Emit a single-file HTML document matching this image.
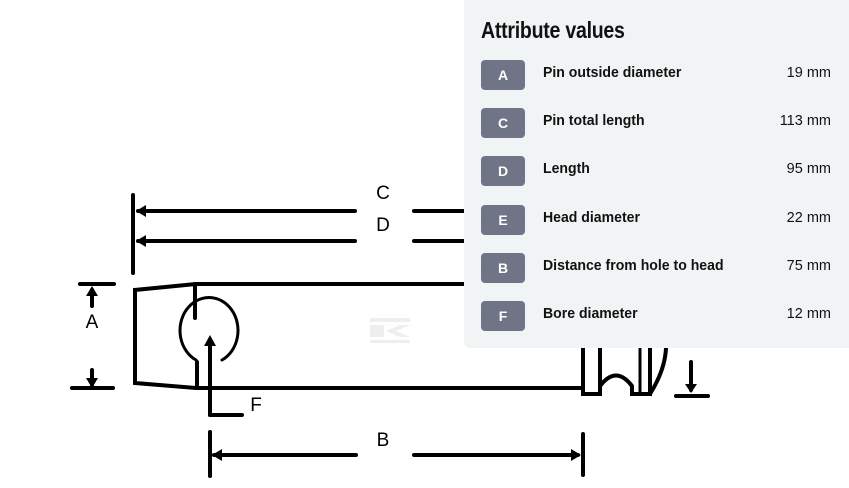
<!DOCTYPE html>
<html><head><meta charset="utf-8"><style>
body{margin:0;width:849px;height:488px;background:#fff;position:relative;overflow:hidden;font-family:"Liberation Sans",sans-serif}
svg{position:absolute;left:0;top:0}
.panel{position:absolute;left:464px;top:0;width:385px;height:348px;background:#f1f4f5;border-bottom-left-radius:6px}
.title{position:absolute;left:17px;top:17px;font-size:23px;font-weight:bold;color:#111;transform:scaleX(0.85);transform-origin:left;letter-spacing:-0.3px}
.row{position:absolute;left:17px;width:350px;height:30px}
.b{position:absolute;left:0;top:0;width:44px;height:30px;background:#6f7586;border-radius:4px;color:#fff;font-weight:bold;font-size:14px;text-align:center;line-height:31px}
.l{position:absolute;left:62px;top:5px;font-size:14.5px;font-weight:bold;color:#111;transform:scaleX(0.97);transform-origin:left;white-space:nowrap}
.v{position:absolute;right:0;top:5px;font-size:14.5px;color:#111}
</style></head><body>
<svg width="849" height="488" viewBox="0 0 849 488" fill="none" stroke="#000" stroke-linecap="round">
<g font-family="Liberation Sans" font-size="19" fill="#000" stroke="none" text-anchor="middle">
<text x="383" y="199">C</text><text x="383" y="231">D</text><text x="92" y="328">A</text><text x="256" y="411">F</text><text x="383" y="446">B</text>
</g>
<g stroke-width="4">
<line x1="133" y1="195" x2="133" y2="273"/>
<line x1="138" y1="211" x2="355" y2="211"/><line x1="414" y1="211" x2="470" y2="211"/>
<line x1="138" y1="241" x2="355" y2="241"/><line x1="414" y1="241" x2="470" y2="241"/>
<path d="M196 284 L600 284"/>
<path d="M196 284 L135 290 L135 383 L196 388 L583 388"/>
<line x1="195" y1="284" x2="195" y2="318"/><line x1="197" y1="362" x2="197" y2="388"/>
<path d="M583 348 V394 H600 V348 M600 394 V386 Q616 365 632 386 V394 H650 V348 M650 394 Q665 370 666 348" stroke-width="4"/>
<line x1="640" y1="348" x2="640" y2="392" stroke-width="3"/>
<line x1="691" y1="362" x2="691" y2="390"/><line x1="676" y1="396" x2="708" y2="396"/>
<line x1="92" y1="290" x2="92" y2="306"/><line x1="80" y1="284" x2="114" y2="284"/>
<line x1="92" y1="370" x2="92" y2="385"/><line x1="72" y1="388" x2="113" y2="388"/>
<line x1="210" y1="345" x2="210" y2="415"/><line x1="210" y1="415" x2="242" y2="415"/>
<line x1="210" y1="432" x2="210" y2="476"/><line x1="583" y1="434" x2="583" y2="475"/>
<line x1="214" y1="455" x2="356" y2="455"/><line x1="414" y1="455" x2="578" y2="455"/>
</g>
<path d="M222 360 A29 33 0 1 0 196 360" stroke-width="3"/>
<g fill="#000" stroke="none">
<path d="M136 211 l10 -6 v12z"/><path d="M136 241 l10 -6 v12z"/>
<path d="M92 286 l-6 10 h12z"/><path d="M92 388 l-6 -10 h12z"/>
<path d="M210 335 l-6 11 h12z"/><path d="M691 393 l-6 -9 h12z"/>
<path d="M212 455 l10 -6 v12z"/><path d="M581 455 l-10 -6 v12z"/>
</g>
<g fill="#eee" stroke="none"><rect x="370" y="318" width="40" height="4"/><rect x="370" y="325" width="14" height="12"/><path d="M386 331 l14 -6 h10 l-14 6 14 6 h-10z"/><rect x="370" y="340" width="40" height="3"/></g>
</svg>
<div class="panel">
<div class="title">Attribute values</div>
<div class="row" style="top:60px"><div class="b">A</div><div class="l">Pin outside diameter</div><div class="v">19 mm</div></div>
<div class="row" style="top:108px"><div class="b">C</div><div class="l">Pin total length</div><div class="v">113 mm</div></div>
<div class="row" style="top:156px"><div class="b">D</div><div class="l">Length</div><div class="v">95 mm</div></div>
<div class="row" style="top:205px"><div class="b">E</div><div class="l">Head diameter</div><div class="v">22 mm</div></div>
<div class="row" style="top:253px"><div class="b">B</div><div class="l">Distance from hole to head</div><div class="v">75 mm</div></div>
<div class="row" style="top:301px"><div class="b">F</div><div class="l">Bore diameter</div><div class="v">12 mm</div></div>
</div>
</body></html>
